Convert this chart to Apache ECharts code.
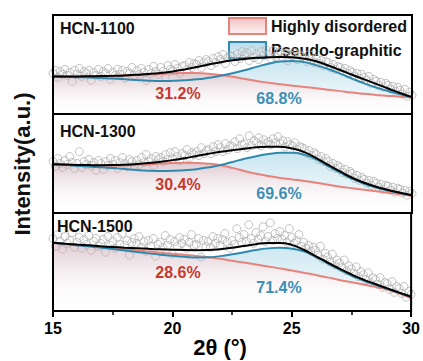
<!DOCTYPE html>
<html><head><meta charset="utf-8">
<script src="https://cdn.jsdelivr.net/npm/echarts@6/dist/echarts.min.js"></script>
<style>html,body{margin:0;padding:0;background:#fff}#c{width:423px;height:361px}</style>
</head><body><div id="c"></div>
<script>
// ---- data ----
const curveX = [15,15.5,16,16.5,17,17.5,18,18.5,19,19.5,20,20.5,21,21.5,22,22.5,23,23.5,24,24.5,25,25.5,26,26.5,27,27.5,28,28.5,29,29.5,30];
const panelNames = ['HCN-1100','HCN-1300','HCN-1500'];
const disorderedPct = ['31.2%','30.4%','28.6%'];
const graphiticPct = ['68.8%','69.6%','71.4%'];
const xTicks = [15,20,25,30];

const fit1100 = [38,38,38,38.1,38.3,38.6,39,39.6,40.4,41.5,43,45,47.4,50,52.3,54.2,55.6,56.7,57.4,57.6,57.2,55.9,53.3,49,44.4,39.6,35,30.4,25.8,21.2,17];
const dis1100 = [38,37.9,37.9,38,38.2,38.5,38.9,39.4,40,40.6,41.1,41.4,41.3,40.6,39.3,37.6,35.5,33.4,31.6,30,28.6,27.3,26,24.6,23.1,21.6,20.4,19.3,18.3,17.5,17];
const gra1100 = [38,37.6,37.2,36.8,36.3,35.8,35.1,34.3,33.6,33.3,33.5,34,35,36.6,38.6,41.2,44.2,47.6,50.8,53,53.6,52.4,49.4,45.4,40.8,35.8,31,26.8,23.2,20,17];

const fit1300 = [49.2,48.9,48.6,48.4,48.3,48.4,48.8,49.5,50.5,51.8,53.4,55.4,57.6,59.8,61.8,63.5,65,66.3,67,66.8,65.2,61.5,55.5,48.5,42,35.6,30.6,26.5,23.3,20.5,18];
const dis1300 = [49.2,48.8,48.4,48.1,47.9,47.9,48.2,48.7,49.3,49.9,50.4,50.7,50.6,49.8,48.2,45.6,42.4,39.6,37.3,35.4,33.9,32.3,30.5,28.5,26.6,25,23.4,21.9,20.4,18.9,17.5];
const gra1300 = [49.2,48.5,47.7,46.9,46.2,45.4,44.4,43.4,42.7,42.4,42.6,43.2,44.3,46.1,48.5,51.6,54.7,57.4,59.5,60.8,60.8,58.8,54.3,47.3,40.7,34.6,29.6,25.8,22.8,20.2,18];

const fit1500 = [69.7,68.7,67.8,67,66.1,65.3,64.6,64,63.4,62.9,62.5,62.2,62.1,62.2,63,64.6,66.4,68.2,69.4,69.5,67.5,62.5,56,49.5,43.2,37.3,32,27.5,23.1,18.8,14.5];
const dis1500 = [69.7,68.6,67.5,66.4,65.2,64.1,63,61.8,60.7,59.5,58.4,57.3,56.2,54.9,53.2,51.3,49.4,47.4,45.5,43.5,41.4,39.1,36.8,34.3,31.7,29.4,27,24.6,21.8,17.8,13];
const gra1500 = [69.7,68.5,67.2,66,64.7,63.3,61.8,60.3,58.8,57.5,56.3,55.3,54.6,54.8,56,57.8,60,62.3,63.9,64.6,63.6,60.8,55.3,48.7,42.3,36.2,31.2,26.7,22.7,18.6,14.5];

// measured points, sampled every 0.1 deg from 15 to 30
const scanStart = 15, scanStep = 0.1;
const pts1100 = [41,44,37,43,40,45,39,42,33,44,40,46,38,43,41,44,34,42,39,45,38,43,41,46,35,42,39,45,40,44,36,43,41,47,39,44,40,46,42,34,45,41,48,43,40,47,43,37,49,45,44,50,46,41,48,49,45,52,47,51,50,54,47,52,55,53,49,56,52,58,55,60,51,57,59,58,53,61,56,63,59,62,54,64,57,61,55,63,59,65,60,56,64,58,62,63,57,61,54,60,59,62,55,60,58,57,53,60,55,52,56,51,54,49,53,52,47,50,45,48,47,43,46,41,44,42,38,41,36,40,37,34,38,31,35,33,29,32,27,31,29,25,28,23,27,24,20,25,18,22,19];
const pts1300 = [52,47,55,50,46,53,49,57,51,45,50,62,46,52,49,54,48,51,43,53,50,44,52,48,55,49,53,45,51,56,50,47,54,52,48,53,49,56,51,59,52,55,48,57,54,56,52,59,54,61,55,62,57,53,60,58,64,56,61,59,62,58,66,60,63,64,60,67,62,69,66,62,70,64,68,67,72,65,75,69,70,66,78,68,73,71,76,68,74,70,72,69,75,71,77,70,73,67,72,69,68,71,64,67,66,65,60,63,58,61,59,54,57,52,55,52,47,50,45,48,46,41,44,39,42,40,35,38,33,36,34,30,33,28,32,30,26,29,24,28,27,23,26,21,25,24,20,23,18,22,20];
const pts1500 = [74,66,78,71,63,76,69,72,80,65,70,75,64,73,68,77,62,71,74,66,69,73,60,76,67,71,64,75,68,79,67,72,57,70,74,69,76,65,71,61,72,66,74,56,68,70,65,77,67,73,58,71,66,75,69,73,64,70,78,67,68,74,55,72,66,71,65,76,69,74,67,73,79,70,64,72,68,84,75,70,78,71,88,74,69,80,73,77,86,71,76,90,72,79,74,81,73,77,70,84,75,69,72,78,66,70,64,67,61,65,62,57,66,53,59,55,50,58,47,52,49,44,52,41,46,43,38,45,35,40,37,32,39,29,34,32,27,34,24,29,28,22,30,19,25,23,18,25,14,20,17];

const fits = [fit1100, fit1300, fit1500];
const diss = [dis1100, dis1300, dis1500];
const gras = [gra1100, gra1300, gra1500];
const pts = [pts1100, pts1300, pts1500];

// ---- styling / layout ----
const FONT = '"Liberation Sans", Arial, sans-serif';
const RED = '#e8837c', RED_TXT = '#c8392e', BLUE = '#2f89ad', BLUE_TXT = '#3c8fb5';
const pinkFill = {type:'linear',x:0,y:0,x2:0,y2:1,colorStops:[{offset:0,color:'rgba(195,158,170,0.55)'},{offset:1,color:'rgba(255,255,255,0)'}]};
const blueFill = {type:'linear',x:0,y:0,x2:0,y2:1,colorStops:[{offset:0,color:'rgba(165,212,231,0.6)'},{offset:0.6,color:'rgba(210,235,244,0.5)'},{offset:1,color:'rgba(255,255,255,0.3)'}]};
const gridTops = [15,114,213], gridHeights = [99,99,98];
const pctRedPos = [[178,93],[178,184],[178,272]];
const pctBluePos = [[279,98],[279,193],[279,287]];
const namePos = [[60,28],[60,131],[57,226]];

const zip = (xs, ys) => xs.map((x,i)=>[x, ys[i]]);
const base = {type:'line', smooth:true, showSymbol:false, silent:true};

const grids = [], xAxes = [], yAxes = [], series = [], graphics = [];
for (let i = 0; i < 3; i++) {
  grids.push({left:53, right:11, top:gridTops[i], height:gridHeights[i], show:true, borderColor:'#000', borderWidth:2, backgroundColor:'transparent', z:10});
  const last = i === 2;
  xAxes.push({
    type:'value', gridIndex:i, min:xTicks[0], max:xTicks[xTicks.length-1], interval:5,
    show: last,
    axisLine:{show:last, onZero:false, lineStyle:{color:'#000', width:2}},
    axisTick:{show:last, length:6, lineStyle:{color:'#000', width:2}},
    minorTick:{show:last, splitNumber:2, length:4, lineStyle:{color:'#000', width:1.5}},
    axisLabel:{show:last, fontSize:16, fontWeight:'bold', color:'#000', margin:9, fontFamily:FONT},
    splitLine:{show:false},
    name: last ? '2θ (°)' : '', nameLocation:'middle', nameGap:25,
    nameTextStyle:{fontSize:22, fontWeight:'bold', color:'#000', fontFamily:FONT, padding:[0,24,0,0]},
    z: 11
  });
  yAxes.push({type:'value', gridIndex:i, min:0, max:100, show:false});

  const ax = {xAxisIndex:i, yAxisIndex:i};
  // blue fill under the pseudo-graphitic curve
  series.push(Object.assign({}, base, ax, {name:'Pseudo-graphitic', z:2, lineStyle:{width:0},
    areaStyle:{color:blueFill, opacity:1}, itemStyle:{color:BLUE}, data: zip(curveX, gras[i])}));
  // white mask under the disordered curve (hides blue fill there)
  series.push(Object.assign({}, base, ax, {name:'mask', z:3, lineStyle:{width:0},
    areaStyle:{color:'#ffffff', opacity:1}, data: zip(curveX, diss[i])}));
  series.push(Object.assign({}, ax, {type:'scatter', name:'data', silent:true, z:4,
    symbol:'circle', symbolSize:8,
    itemStyle:{color:'rgba(255,255,255,0)', borderColor:'#b2b2b2', borderWidth:1},
    data: pts[i].map((v,k)=>[scanStart + k*scanStep, v])}));
  series.push(Object.assign({}, base, ax, {name:'Highly disordered', z:5, lineStyle:{width:0},
    areaStyle:{color:pinkFill, opacity:1}, itemStyle:{color:RED}, data: zip(curveX, diss[i])}));
  series.push(Object.assign({}, base, ax, {name:'disordered-line', z:6,
    lineStyle:{color:RED, width:2}, data: zip(curveX, diss[i])}));
  series.push(Object.assign({}, base, ax, {name:'graphitic-line', z:7,
    lineStyle:{color:BLUE, width:2}, data: zip(curveX, gras[i])}));
  series.push(Object.assign({}, base, ax, {name:'fit', z:8,
    lineStyle:{color:'#000', width:2}, data: zip(curveX, fits[i])}));

  graphics.push({type:'text', x:namePos[i][0], y:namePos[i][1], z:20,
    style:{text:panelNames[i], font:'bold 16px '+FONT, fill:'#111', align:'left', verticalAlign:'middle'}});
  graphics.push({type:'text', x:pctRedPos[i][0], y:pctRedPos[i][1], z:20,
    style:{text:disorderedPct[i], font:'bold 16px '+FONT, fill:RED_TXT, align:'center', verticalAlign:'middle'}});
  graphics.push({type:'text', x:pctBluePos[i][0], y:pctBluePos[i][1], z:20,
    style:{text:graphiticPct[i], font:'bold 16px '+FONT, fill:BLUE_TXT, align:'center', verticalAlign:'middle'}});
}
graphics.push({type:'text', x:22, y:164, rotation:Math.PI/2, z:20,
  style:{text:'Intensity(a.u.)', font:'bold 22px '+FONT, fill:'#111', align:'center', verticalAlign:'middle'}});

const chart = echarts.init(document.getElementById('c'), null, {renderer:'svg'});
chart.setOption({
  animation:false,
  backgroundColor:'#fff',
  textStyle:{fontFamily:FONT},
  grid:grids, xAxis:xAxes, yAxis:yAxes, series:series, graphic:graphics,
  legend:{
    orient:'vertical', left:228, top:17, padding:0, itemWidth:37, itemHeight:16, itemGap:6, itemTextGap:5,
    selectedMode:false,
    textStyle:{fontSize:16, fontWeight:'bold', color:'#111', fontFamily:FONT, lineHeight:16},
    data:[
      {name:'Highly disordered', icon:'rect', itemStyle:{color:{type:'linear',x:0,y:0,x2:0,y2:1,colorStops:[{offset:0,color:'#f2c3c3'},{offset:1,color:'#fdf1f1'}]}, borderColor:RED, borderWidth:2}},
      {name:'Pseudo-graphitic', icon:'rect', itemStyle:{color:{type:'linear',x:0,y:0,x2:0,y2:1,colorStops:[{offset:0,color:'#b7dbe9'},{offset:1,color:'#e6f3f8'}]}, borderColor:BLUE, borderWidth:2}}
    ]
  }
});
</script></body></html>
